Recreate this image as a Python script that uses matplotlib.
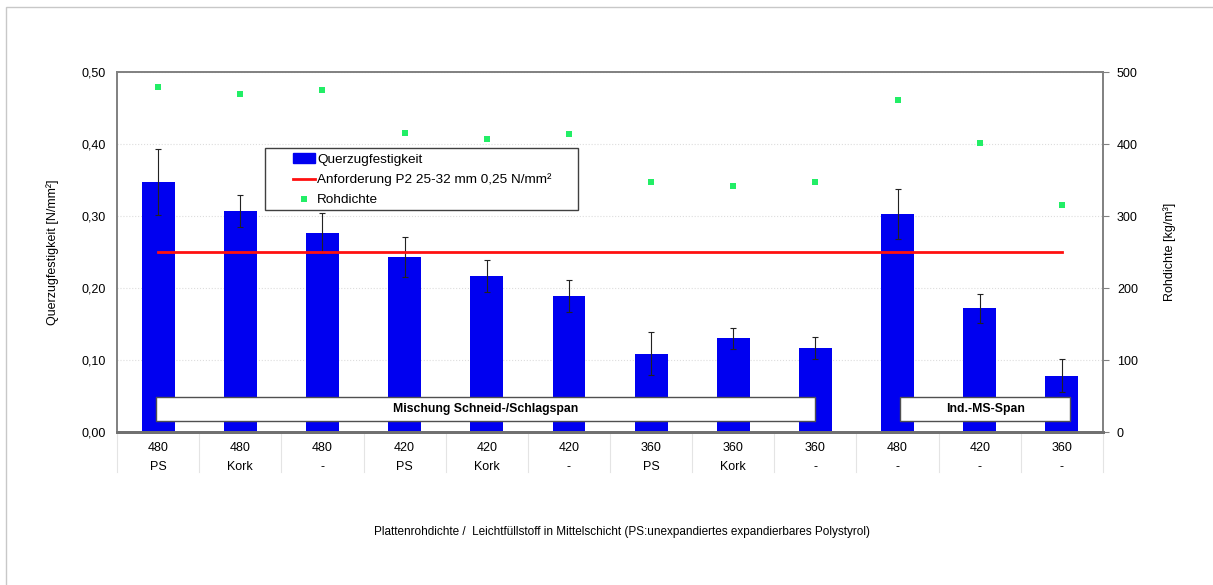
import numpy as np
import matplotlib
matplotlib.use("Agg")
import matplotlib.pyplot as plt
from matplotlib.ticker import FuncFormatter, MultipleLocator
from matplotlib.patches import Rectangle
from matplotlib.lines import Line2D
import matplotlib.transforms as mtransforms

plt.rcParams["font.family"] = ["Liberation Sans", "DejaVu Sans"]

# Werte
dichte_label = ["480", "480", "480", "420", "420", "420", "360", "360", "360", "480", "420", "360"]
fuellstoff = ["PS", "Kork", "-", "PS", "Kork", "-", "PS", "Kork", "-", "-", "-", "-"]
querzug = [0.347, 0.307, 0.276, 0.243, 0.217, 0.189, 0.109, 0.130, 0.117, 0.303, 0.172, 0.078]
querzug_err = [0.046, 0.022, 0.028, 0.028, 0.022, 0.022, 0.030, 0.015, 0.015, 0.035, 0.020, 0.023]
rohdichte = [479, 469, 475, 415, 407, 414, 347, 342, 347, 461, 401, 315]
anforderung = 0.25

x = np.arange(len(querzug))

fig = plt.figure(figsize=(12.13, 5.85), dpi=100)
ax = fig.add_axes([0.0965, 0.2615, 0.8128, 0.6154])
ax2 = ax.twinx()

# Rahmen des Diagrammbereichs
fig.patches.append(Rectangle((6 / 1213, -0.1), 1.2, 1 - 7 / 585 + 0.1, transform=fig.transFigure,
                             fill=False, edgecolor="#c8c8c8", linewidth=1.0))

ax.bar(x, querzug, width=0.4, color="#0000f0", zorder=2)
ax.errorbar(x, querzug, yerr=querzug_err, fmt="none", ecolor="#222222", elinewidth=0.8,
            capsize=2, capthick=0.8, zorder=3)
ax.plot([x[0], x[-1]], [anforderung, anforderung], color="#ff1010", linewidth=2, zorder=4)
ax2.plot(x, rohdichte, linestyle="none", marker="s", markersize=4.5, color="#22ee66",
         markeredgewidth=0, zorder=5)

ax.set_xlim(-0.5, len(x) - 0.5)
ax.set_ylim(0, 0.5)
ax2.set_ylim(0, 500)
ax.yaxis.set_major_locator(MultipleLocator(0.1))
ax2.yaxis.set_major_locator(MultipleLocator(100))
ax.yaxis.set_major_formatter(FuncFormatter(lambda v, p: ("%.2f" % v).replace(".", ",")))
ax.grid(axis="y", color="#dddddd", linestyle=":", linewidth=0.8, zorder=0)
ax.set_axisbelow(True)

for a in (ax, ax2):
    for s in ["left", "right", "top"]:
        a.spines[s].set_color("#808080")
        a.spines[s].set_linewidth(1.2)
    a.spines["bottom"].set_color("#707070")
    a.spines["bottom"].set_linewidth(2)
    a.tick_params(axis="y", length=4, color="#808080", labelsize=9, pad=6)
ax.tick_params(axis="y", length=0, pad=8)
ax.tick_params(axis="x", length=0, labelbottom=False)

ax.set_ylabel("Querzugfestigkeit [N/mm²]", fontsize=9, labelpad=16)
ax2.set_ylabel("Rohdichte [kg/m³]", fontsize=9, labelpad=18)

# zweizeilige Kategorien mit Trennlinien
trans = mtransforms.blended_transform_factory(ax.transData, ax.transAxes)
for i in range(len(x) + 1):
    ax.plot([i - 0.5, i - 0.5], [0, -0.11], transform=trans, color="#e4e4e4",
            linewidth=0.8, clip_on=False)
for i in x:
    ax.text(i, -0.045, dichte_label[i], transform=trans, ha="center", va="center", fontsize=9)
    ax.text(i, -0.097, fuellstoff[i], transform=trans, ha="center", va="center", fontsize=9)

fig.text(0.513, 0.09, "Plattenrohdichte /  Leichtfüllstoff in Mittelschicht (PS:unexpandiertes expandierbares Polystyrol)",
         ha="center", va="center", fontsize=8.5)

# Gruppenbeschriftungen
for x0, x1, txt in [(-0.03, 8.0, "Mischung Schneid-/Schlagspan"), (9.03, 11.1, "Ind.-MS-Span")]:
    ax.add_patch(Rectangle((x0, 0.015), x1 - x0, 0.034, facecolor="white", edgecolor="#505050",
                           linewidth=1.0, zorder=6))
    ax.text((x0 + x1) / 2, 0.032, txt, ha="center", va="center", fontsize=8.8,
            fontweight="bold", zorder=7)

# Legende mit eigenem Rahmen
ax2.add_patch(Rectangle((0.1501, 0.6167), 0.3174, 0.1722, transform=ax2.transAxes,
                        facecolor="white", edgecolor="#404040", linewidth=1.0, zorder=9))
handles = [Rectangle((0, 0), 1, 1, color="#0000f0"),
           Line2D([], [], color="#ff1010", linewidth=2),
           Line2D([], [], linestyle="none", marker="s", markersize=4.5, color="#22ee66", markeredgewidth=0)]
leg = ax2.legend(handles, ["Querzugfestigkeit", "Anforderung P2 25-32 mm 0,25 N/mm²", "Rohdichte"],
                 loc="upper left", bbox_to_anchor=(0.1785, 0.774), fontsize=9.7, frameon=False,
                 borderpad=0, labelspacing=0.57, handlelength=1.65, handletextpad=0.15,
                 borderaxespad=0)
leg.set_zorder(10)

fig.savefig("out.png", dpi=100)
